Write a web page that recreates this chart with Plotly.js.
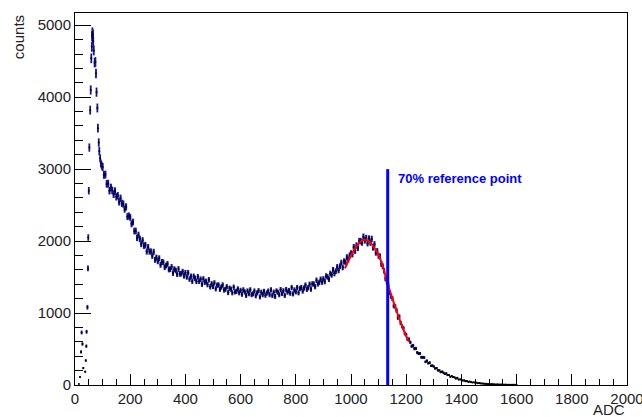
<!DOCTYPE html>
<html>
<head>
<meta charset="utf-8">
<script src="https://cdn.plot.ly/plotly-3.0.1.min.js"></script>
<style>
  html, body { margin: 0; padding: 0; background: #fff; }
  #chart { width: 642px; height: 417px; }
</style>
</head>
<body>
<div id="chart"></div>
<script>
// Leading edge bins (non-uniform read positions), ADC and counts
const edgeAdc    = [14, 18, 22, 24, 27, 30, 37, 39, 41, 42, 45, 47, 48, 50, 52, 55, 57, 59, 61, 62, 63, 64, 65, 66, 68, 71, 74, 76, 78, 81, 83, 86, 88, 91, 94, 97];
const edgeCounts = [15, 110, 460, 730, 570, 235, 185, 340, 540, 740, 1080, 1620, 2050, 2700, 3300, 3820, 4100, 4540, 4700, 4850, 4900, 4820, 4870, 4780, 4650, 4480, 4490, 4330, 4070, 3850, 3570, 3370, 3250, 3150, 3080, 3050];

// Main histogram: bins every 5 ADC starting at 100
const mainStart = 100;
const mainStep = 5;
const mainCounts = [
  // 100-195
  3030, 2920, 2925, 2795, 2800, 2700, 2745, 2705, 2650, 2695, 2615, 2630, 2545, 2595, 2525, 2515, 2445, 2475, 2340, 2350,
  // 200-295
  2330, 2240, 2265, 2140, 2140, 2045, 2085, 2030, 1960, 2010, 1935, 1945, 1855, 1915, 1855, 1855, 1795, 1850, 1740, 1770,
  // 300-395
  1720, 1760, 1670, 1710, 1705, 1637, 1660, 1682, 1605, 1610, 1640, 1555, 1610, 1592, 1540, 1612, 1545, 1547, 1575, 1517,
  // 400-495
  1560, 1502, 1560, 1472, 1510, 1442, 1510, 1482, 1440, 1504, 1442, 1471, 1400, 1474, 1427, 1441, 1395, 1462, 1365, 1407,
  // 500-595
  1370, 1419, 1337, 1386, 1390, 1330, 1360, 1390, 1320, 1330, 1365, 1285, 1345, 1331, 1282, 1359, 1295, 1302, 1335, 1282,
  // 600-695
  1315, 1261, 1322, 1293, 1245, 1307, 1269, 1322, 1255, 1268, 1306, 1240, 1280, 1310, 1225, 1290, 1255, 1301, 1247, 1278,
  // 700-795
  1305, 1256, 1322, 1243, 1290, 1231, 1307, 1289, 1255, 1326, 1272, 1309, 1245, 1327, 1290, 1312, 1275, 1354, 1267, 1321,
  // 800-895
  1295, 1353, 1282, 1341, 1355, 1306, 1347, 1388, 1330, 1352, 1400, 1332, 1405, 1404, 1367, 1456, 1405, 1425, 1470, 1430,
  // 900-995
  1475, 1437, 1515, 1502, 1470, 1550, 1530, 1600, 1550, 1582, 1640, 1592, 1650, 1700, 1635, 1720, 1705, 1775, 1745, 1800,
  // 1000-1095
  1830, 1815, 1915, 1865, 1940, 1905, 2000, 2000, 1980, 2060, 2010, 2042, 1970, 2035, 1980, 2030, 1910, 1955, 1840, 1860,
  // 1100-1195
  1796, 1785, 1682, 1650, 1587, 1479, 1434, 1388, 1283, 1233, 1201, 1099, 1094, 1037, 936, 951, 860, 816, 791, 716,
  // 1200-1295
  698, 637, 635, 593, 540, 548, 505, 508, 450, 437, 438, 385, 385, 382, 322, 337, 302, 310, 267, 268,
  // 1300-1395
  256, 229, 235, 203, 203, 178, 186, 171, 153, 161, 138, 139, 114, 125, 109, 106, 89, 98, 76, 79,
  // 1400-1495
  72, 62, 64, 53, 54, 44, 47, 40, 35, 38, 30, 32, 24, 27, 22, 20, 20, 15, 17, 13,
  // 1500-1600
  14, 10, 12, 9, 10, 7, 8, 6, 6, 4, 5, 3, 4, 3, 2, 3, 1, 2, 1, 1, 0
];

// Fit curve (red)
const fitAdc    = [978, 990, 1000, 1010, 1020, 1030, 1040, 1050, 1060, 1070, 1080, 1090, 1100, 1110, 1120, 1130, 1140, 1150, 1160, 1170, 1180, 1190, 1200, 1210];
const fitCounts = [1620, 1720, 1800, 1870, 1930, 1975, 2005, 2020, 2012, 1980, 1930, 1875, 1810, 1710, 1590, 1440, 1320, 1200, 1090, 975, 870, 770, 680, 600];

// 70% reference point marker
const refAdc = 1133;
const refTop = 3000;
const refLabel = "70% reference point";
const refLabelAdc = 1162;
const refLabelCounts = 2875;

const xTitle = "ADC";
const yTitle = "counts";

const font = "'Liberation Sans', Arial, sans-serif";
const errColor = "#14149e";

const traces = [
  {
    x: edgeAdc, y: edgeCounts, type: "scatter", mode: "markers",
    marker: { color: "#000", size: 2 },
    error_y: { type: "sqrt", color: errColor, thickness: 1.8, width: 0 },
    hoverinfo: "skip", showlegend: false
  },
  {
    x0: mainStart, dx: mainStep, y: mainCounts, type: "scatter", mode: "markers",
    marker: { color: "#000", size: 2.2 },
    error_y: { type: "sqrt", color: errColor, thickness: 2.1, width: 0 },
    hoverinfo: "skip", showlegend: false
  },
  {
    x: fitAdc, y: fitCounts, type: "scatter", mode: "lines",
    line: { color: "#ff0000", width: 2, shape: "spline" },
    hoverinfo: "skip", showlegend: false
  },
  {
    x: [refAdc, refAdc], y: [0, refTop], type: "scatter", mode: "lines",
    line: { color: "#0000ff", width: 3 },
    hoverinfo: "skip", showlegend: false
  }
];

const layout = {
  width: 642, height: 417,
  margin: { l: 75, r: 15, t: 13, b: 32 },
  paper_bgcolor: "#fff", plot_bgcolor: "#fff",
  font: { family: font, size: 15, color: "#222" },
  showlegend: false,
  xaxis: {
    range: [0, 2000], tick0: 0, dtick: 200,
    ticks: "inside", ticklen: 11, tickwidth: 1, tickcolor: "#000",
    minor: { dtick: 50, ticks: "inside", ticklen: 6, tickcolor: "#000", tickwidth: 1 },
    showline: true, linecolor: "#000", linewidth: 1, mirror: true,
    showgrid: false, zeroline: false,
    ticklabeloverflow: "allow",
    tickfont: { family: font, size: 15, color: "#222" }
  },
  yaxis: {
    range: [0, 5170], tick0: 0, dtick: 1000,
    ticks: "inside", ticklen: 16, tickwidth: 1, tickcolor: "#000",
    minor: { dtick: 200, ticks: "inside", ticklen: 8, tickcolor: "#000", tickwidth: 1 },
    showline: true, linecolor: "#000", linewidth: 1, mirror: true,
    showgrid: false, zeroline: false,
    tickfont: { family: font, size: 15, color: "#222" }
  },
  annotations: [
    {
      text: refLabel, xref: "x", yref: "y", x: refLabelAdc, y: refLabelCounts,
      xanchor: "left", yanchor: "middle", showarrow: false,
      font: { family: font, size: 13, color: "#0000ff", weight: "bold" }
    },
    {
      text: xTitle, xref: "paper", yref: "paper", x: 1, y: -0.066,
      xanchor: "right", yanchor: "middle", showarrow: false,
      font: { family: font, size: 15, color: "#222" }
    },
    {
      text: yTitle, xref: "paper", yref: "paper", x: -0.103, y: 1,
      xanchor: "center", yanchor: "top", textangle: -90, showarrow: false,
      font: { family: font, size: 15, color: "#222" }
    }
  ]
};

Plotly.newPlot("chart", traces, layout, { staticPlot: true, displayModeBar: false });
</script>
</body>
</html>
